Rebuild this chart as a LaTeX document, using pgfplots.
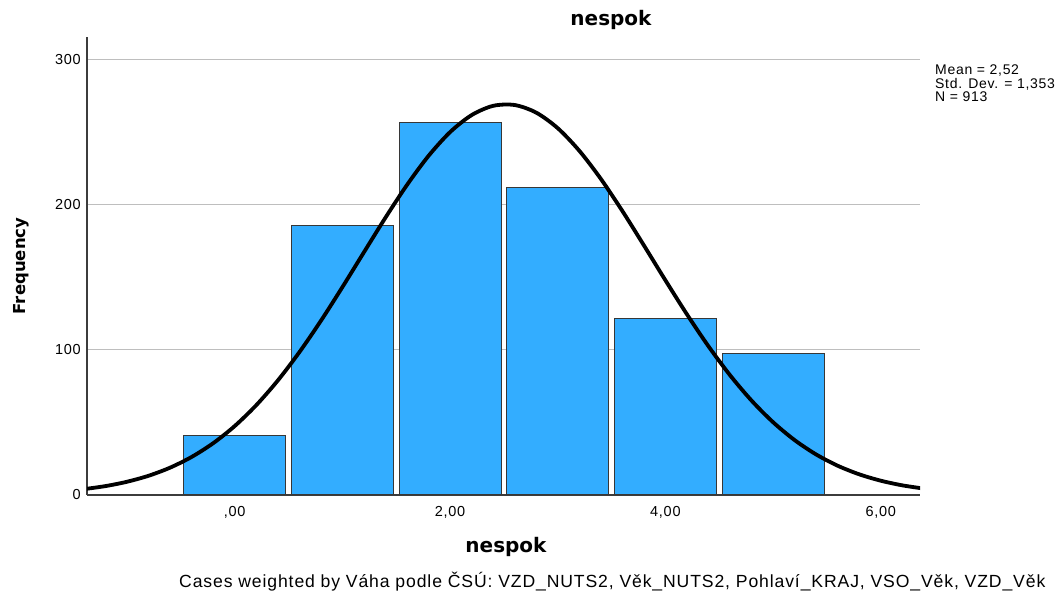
\documentclass[border=0pt]{standalone}
\usepackage{fontspec}
\setmainfont{Liberation Sans}[LetterSpace=5.0]
\newfontfamily\dejavu{DejaVu Sans}
\usepackage{pgfplots}
\pgfplotsset{compat=1.18}

\definecolor{barblue}{RGB}{51,173,255}
\definecolor{baredge}{RGB}{55,55,55}
\definecolor{gridgray}{RGB}{190,190,190}
\definecolor{axisgray}{RGB}{60,60,60}

\begin{document}
\begin{tikzpicture}[x=1pt,y=1pt]
\useasboundingbox (0,0) rectangle (1059,591);

\begin{axis}[
  at={(87pt,96pt)}, anchor=south west,
  scale only axis,
  width=833pt, height=458pt,
  xmin=-1.372, xmax=6.365,
  ymin=0, ymax=315.6,
  axis x line*=bottom, axis y line*=left,
  axis line style={-, draw=axisgray, line width=1.4pt},
  major tick length=0pt,
  xtick={0,2,4,6},
  xticklabels={{,00},{2,00},{4,00},{6,00}},
  ytick={0,100,200,300},
  yticklabels={0,100,200,300},
  ymajorgrids,
  grid style={gridgray, line width=1pt},
  xticklabel style={font=\fontsize{14.5}{17}\selectfont, anchor=base, yshift=-22pt},
  yticklabel style={font=\fontsize{14.5}{17}\selectfont, anchor=east, inner sep=0pt, xshift=-6pt},
]
% histogram counts (bin width 1)
\addplot[ybar, bar width=0.947, bar shift=0pt, fill=barblue, draw=baredge, line width=1pt]
  coordinates {(0,40.7) (1,185.5) (2,256.6) (3,211.7) (4,121.4) (5,97.2)};

% normal curve, mean 2,52, sd 1,353, N 913
\addplot[black, line width=3.8pt, smooth] coordinates {
(-1.4,4.05) (-1.2,6.14) (-1.0,9.13) (-0.8,13.26) (-0.6,18.85) (-0.4,26.23)
(-0.2,35.69) (0.0,47.51) (0.2,61.89) (0.4,78.87) (0.6,98.36) (0.8,119.98)
(1.0,143.24) (1.2,167.25) (1.4,191.10) (1.6,213.64) (1.8,233.67) (2.0,250.03)
(2.2,261.77) (2.4,268.15) (2.6,268.73) (2.8,263.50) (3.0,252.78)
(3.2,237.25) (3.4,217.89) (3.6,195.76) (3.8,172.07) (4.0,147.98) (4.2,124.53)
(4.4,102.51) (4.6,82.59) (4.8,65.09) (5.0,50.18) (5.2,37.85) (5.4,27.94)
(5.6,20.18) (5.8,14.26) (6.0,9.86) (6.2,6.66) (6.4,4.41)
};
\end{axis}

% title and axis labels
\node[font=\dejavu\bfseries\fontsize{20}{24}\selectfont] at (611,571) {nespok};
\node[font=\dejavu\bfseries\fontsize{20}{24}\selectfont] at (506,44) {nespok};
\node[font=\dejavu\bfseries\fontsize{16.5}{20}\selectfont, rotate=90] at (21,325) {Frequency};

% statistics
\node[font=\fontsize{14}{16}\selectfont, anchor=base west, inner sep=0pt] at (935,516) {Mean = 2,52};
\node[font=\fontsize{14}{16}\selectfont, anchor=base west, inner sep=0pt] at (935,502.5) {Std. Dev. = 1,353};
\node[font=\fontsize{14}{16}\selectfont, anchor=base west, inner sep=0pt] at (935,489) {N = 913};

% footnote
\node[font=\fontsize{17.6}{20}\selectfont, anchor=base west, inner sep=0pt] at (179,4)
  {Cases weighted by Váha podle ČSÚ: VZD\_NUTS2, Věk\_NUTS2, Pohlaví\_KRAJ, VSO\_Věk, VZD\_Věk};
\end{tikzpicture}
\end{document}
